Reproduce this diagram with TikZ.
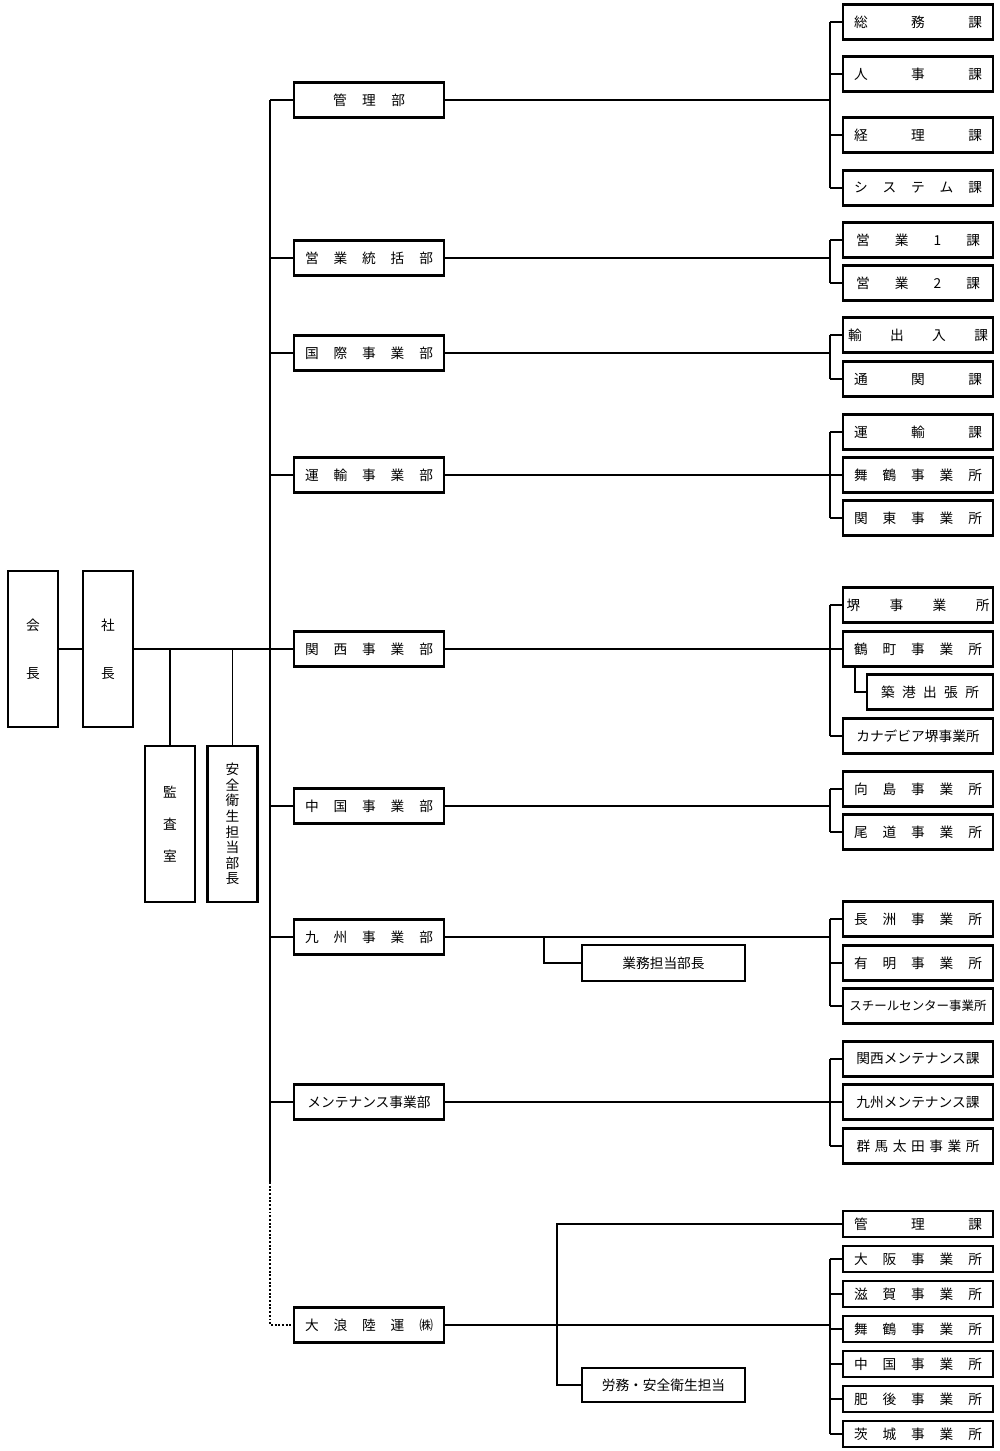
\documentclass[tikz,border=0pt]{standalone}
\usepackage{fontspec}
\setmainfont{Noto Sans CJK JP}
\usepackage{tikz}
\tikzset{%
  box/.style={draw,line width=1.2pt,inner sep=0pt,fill=white,font=\fontsize{7.8}{9}\selectfont},
  dept/.style={box,minimum width=3cm,minimum height=0.7cm},
  sect/.style={box,minimum width=3cm,minimum height=#1},
  sect/.default=0.7cm,
  post/.style={box,minimum width=1cm,minimum height=3.13cm,align=center,font=\fontsize{7.8}{#1}\selectfont},
  link/.style={line width=1.1pt}
}
\newcommand{\spread}[2]{\makebox[#1][s]{#2}}

\begin{document}
\begin{tikzpicture}[x=0.02cm,y=-0.02cm]
  \useasboundingbox (0,0) rectangle (1000,1451);
  \coordinate (t0) at (270,0);
  \coordinate (t1) at (270,1182);
  \coordinate (b0) at (830,0);
  \coordinate (c0) at (544,0);
  \coordinate (c1) at (557,0);
  \coordinate (c2) at (855,0);
  % top
  \node[post=27.3] (kaicho) at (33,649) {会\\長};
  \node[post=27.3] (shacho) at (108,649) {社\\長};
  \node[post=18.2] (kansa) at (170,824) {監\\査\\室};
  \node[post=8.9] (anzen) at (232.5,824) {安\\全\\衛\\生\\担\\当\\部\\長};
  % departments
  \node[dept] (d0) at (369,100) {\spread{1.44cm}{管\hfill 理\hfill 部}};
  \node[dept] (d1) at (369,258) {\spread{2.56cm}{営\hfill 業\hfill 統\hfill 括\hfill 部}};
  \node[dept] (d2) at (369,353) {\spread{2.56cm}{国\hfill 際\hfill 事\hfill 業\hfill 部}};
  \node[dept] (d3) at (369,475) {\spread{2.56cm}{運\hfill 輸\hfill 事\hfill 業\hfill 部}};
  \node[dept] (d4) at (369,649) {\spread{2.56cm}{関\hfill 西\hfill 事\hfill 業\hfill 部}};
  \node[dept] (d5) at (369,806) {\spread{2.56cm}{中\hfill 国\hfill 事\hfill 業\hfill 部}};
  \node[dept] (d6) at (369,937) {\spread{2.56cm}{九\hfill 州\hfill 事\hfill 業\hfill 部}};
  \node[dept] (d7) at (369,1102) {メンテナンス事業部};
  \node[dept] (d8) at (369,1325) {\spread{2.56cm}{大\hfill 浪\hfill 陸\hfill 運\hfill ㈱}};
  \node[dept,minimum width=3.26cm,minimum height=0.72cm] (g0) at (663.5,963) {業務担当部長};
  \node[dept,minimum width=3.26cm,minimum height=0.68cm] (r0) at (663.5,1385) {労務・安全衛生担当};
  % sections
  \node[sect] (s0) at (918,22) {\spread{2.56cm}{総\hfill 務\hfill 課}};
  \node[sect] (s1) at (918,74) {\spread{2.56cm}{人\hfill 事\hfill 課}};
  \node[sect] (s2) at (918,135) {\spread{2.56cm}{経\hfill 理\hfill 課}};
  \node[sect] (s3) at (918,188) {\spread{2.56cm}{シ\hfill ス\hfill テ\hfill ム\hfill 課}};
  \node[sect] (s4) at (918,240) {\spread{2.48cm}{営\hfill 業\hfill 1\hfill 課}};
  \node[sect] (s5) at (918,283) {\spread{2.48cm}{営\hfill 業\hfill 2\hfill 課}};
  \node[sect] (s6) at (918,335) {\spread{2.8cm}{輸\hfill 出\hfill 入\hfill 課}};
  \node[sect] (s7) at (918,379) {\spread{2.56cm}{通\hfill 関\hfill 課}};
  \node[sect] (s8) at (918,432) {\spread{2.56cm}{運\hfill 輸\hfill 課}};
  \node[sect] (s9) at (918,475) {\spread{2.56cm}{舞\hfill 鶴\hfill 事\hfill 業\hfill 所}};
  \node[sect] (s10) at (918,518) {\spread{2.56cm}{関\hfill 東\hfill 事\hfill 業\hfill 所}};
  \node[sect] (s11) at (918,605) {\spread{2.86cm}{堺\hfill 事\hfill 業\hfill 所}};
  \node[sect] (s12) at (918,649) {\spread{2.56cm}{鶴\hfill 町\hfill 事\hfill 業\hfill 所}};
  \node[sect,minimum width=2.52cm] (s13) at (930,692) {\spread{1.96cm}{築\hfill 港\hfill 出\hfill 張\hfill 所}};
  \node[sect] (s14) at (918,736) {カナデビア堺事業所};
  \node[sect] (s15) at (918,789) {\spread{2.56cm}{向\hfill 島\hfill 事\hfill 業\hfill 所}};
  \node[sect] (s16) at (918,832) {\spread{2.56cm}{尾\hfill 道\hfill 事\hfill 業\hfill 所}};
  \node[sect] (s17) at (918,919) {\spread{2.56cm}{長\hfill 洲\hfill 事\hfill 業\hfill 所}};
  \node[sect] (s18) at (918,963) {\spread{2.56cm}{有\hfill 明\hfill 事\hfill 業\hfill 所}};
  \node[sect,font=\fontsize{7.1}{8}\selectfont] (s19) at (918,1006) {スチールセンター事業所};
  \node[sect] (s20) at (918,1059) {関西メンテナンス課};
  \node[sect] (s21) at (918,1102) {九州メンテナンス課};
  \node[sect] (s22) at (918,1146) {\spread{2.46cm}{群\hfill 馬\hfill 太\hfill 田\hfill 事\hfill 業\hfill 所}};
  \node[sect=0.52cm] (s23) at (918,1224) {\spread{2.56cm}{管\hfill 理\hfill 課}};
  \node[sect=0.52cm] (s24) at (918,1259) {\spread{2.56cm}{大\hfill 阪\hfill 事\hfill 業\hfill 所}};
  \node[sect=0.52cm] (s25) at (918,1294) {\spread{2.56cm}{滋\hfill 賀\hfill 事\hfill 業\hfill 所}};
  \node[sect=0.52cm] (s26) at (918,1329) {\spread{2.56cm}{舞\hfill 鶴\hfill 事\hfill 業\hfill 所}};
  \node[sect=0.52cm] (s27) at (918,1364) {\spread{2.56cm}{中\hfill 国\hfill 事\hfill 業\hfill 所}};
  \node[sect=0.52cm] (s28) at (918,1399) {\spread{2.56cm}{肥\hfill 後\hfill 事\hfill 業\hfill 所}};
  \node[sect=0.52cm] (s29) at (918,1434) {\spread{2.56cm}{茨\hfill 城\hfill 事\hfill 業\hfill 所}};
  %%% trunk
  \draw[link] (kaicho) -- (shacho);
  \draw[link] (shacho.east) -- (t0 |- shacho);
  \draw[link] (kansa.north) -- (kansa.north |- shacho);
  \draw[link] (anzen.north) -- (anzen.north |- shacho);
  \draw[link] (t0 |- d0) -- (t1);
  \draw[link,densely dotted] (t1) |- (d8.west);
  \draw[link] (t0 |- d0) -- (d0.west);
  \draw[link] (t0 |- d1) -- (d1.west);
  \draw[link] (t0 |- d2) -- (d2.west);
  \draw[link] (t0 |- d3) -- (d3.west);
  \draw[link] (t0 |- d4) -- (d4.west);
  \draw[link] (t0 |- d5) -- (d5.west);
  \draw[link] (t0 |- d6) -- (d6.west);
  \draw[link] (t0 |- d7) -- (d7.west);
  %%% branches
  \draw[link] (d0.east) -- (b0 |- d0);
  \draw[link] (b0 |- s0) -- (b0 |- s3);
  \draw[link] (b0 |- s0) -- (s0.west);
  \draw[link] (b0 |- s1) -- (s1.west);
  \draw[link] (b0 |- s2) -- (s2.west);
  \draw[link] (b0 |- s3) -- (s3.west);
  \draw[link] (d1.east) -- (b0 |- d1);
  \draw[link] (b0 |- s4) -- (s4.west);
  \draw[link] (b0 |- s5) -- (s5.west);
  \draw[link] (b0 |- s4) -- (b0 |- s5);
  \draw[link] (d2.east) -- (b0 |- d2);
  \draw[link] (b0 |- s6) -- (s6.west);
  \draw[link] (b0 |- s7) -- (s7.west);
  \draw[link] (b0 |- s6) -- (b0 |- s7);
  \draw[link] (d3.east) -- (b0 |- d3);
  \draw[link] (b0 |- s8) -- (b0 |- s10);
  \draw[link] (b0 |- s8) -- (s8.west);
  \draw[link] (b0 |- s9) -- (s9.west);
  \draw[link] (b0 |- s10) -- (s10.west);
  \draw[link] (d4.east) -- (b0 |- d4);
  \draw[link] (b0 |- s11) -- (b0 |- s14);
  \draw[link] (b0 |- s11) -- (s11.west);
  \draw[link] (b0 |- s12) -- (s12.west);
  \draw[link] (b0 |- s14) -- (s14.west);
  \draw[link] (c2 |- s12.south) |- (s13.west);
  \draw[link] (d5.east) -- (b0 |- d5);
  \draw[link] (b0 |- s15) -- (b0 |- s16);
  \draw[link] (b0 |- s15) -- (s15.west);
  \draw[link] (b0 |- s16) -- (s16.west);
  \draw[link] (d6.east) -- (b0 |- d6);
  \draw[link] (b0 |- s17) -- (b0 |- s19);
  \draw[link] (b0 |- s17) -- (s17.west);
  \draw[link] (b0 |- s18) -- (s18.west);
  \draw[link] (b0 |- s19) -- (s19.west);
  \draw[link] (c0 |- d6) |- (g0.west);
  \draw[link] (d7.east) -- (b0 |- d7);
  \draw[link] (b0 |- s20) -- (b0 |- s22);
  \draw[link] (b0 |- s20) -- (s20.west);
  \draw[link] (b0 |- s21) -- (s21.west);
  \draw[link] (b0 |- s22) -- (s22.west);
  \draw[link] (d8.east) -- (b0 |- d8);
  \draw[link] (s23.west) -| (c1 |- r0) -- (r0.west);
  \draw[link] (b0 |- s24) -- (b0 |- s29);
  \draw[link] (b0 |- s24) -- (s24.west);
  \draw[link] (b0 |- s25) -- (s25.west);
  \draw[link] (b0 |- s26) -- (s26.west);
  \draw[link] (b0 |- s27) -- (s27.west);
  \draw[link] (b0 |- s28) -- (s28.west);
  \draw[link] (b0 |- s29) -- (s29.west);
\end{tikzpicture}
\end{document}
